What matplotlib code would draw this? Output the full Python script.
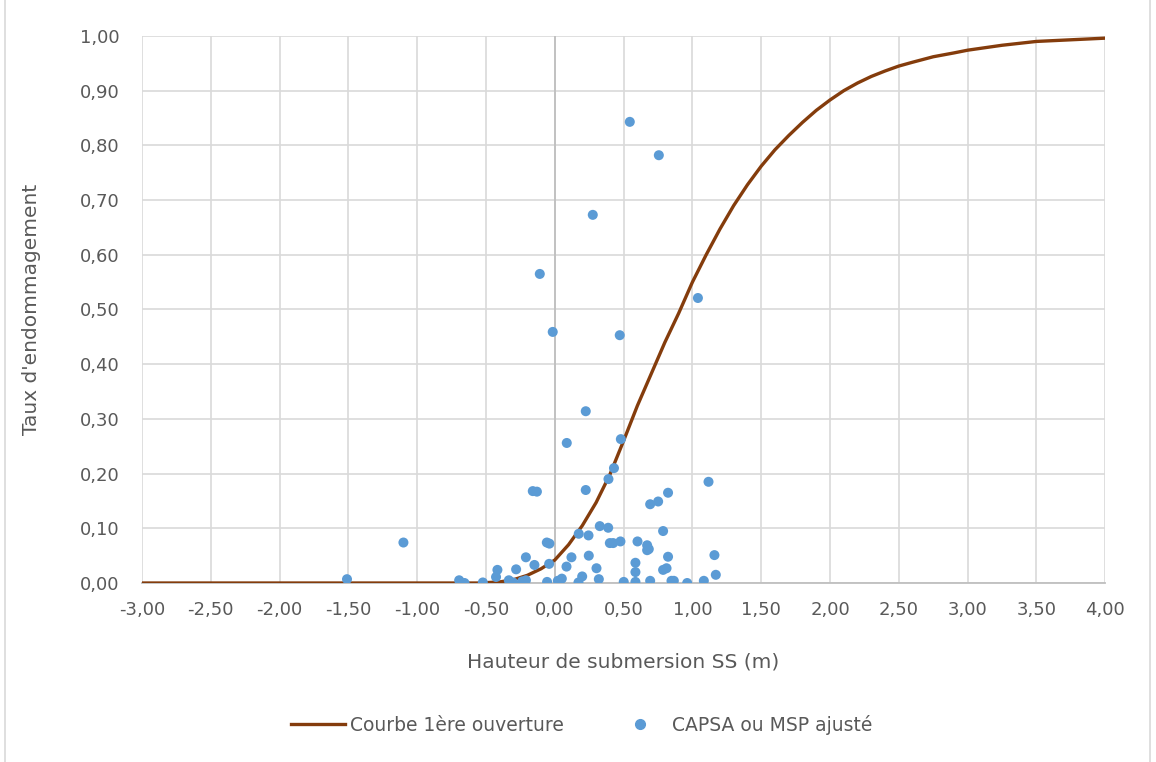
import matplotlib.pyplot as plt
from matplotlib.lines import Line2D

# courbe
courbe_x = [-3.0, -0.7, -0.55, -0.4, -0.3, -0.2, -0.1, 0.0, 0.1, 0.2, 0.3, 0.4,
            0.5, 0.6, 0.7, 0.8, 0.9, 1.0, 1.1, 1.2, 1.3, 1.4, 1.5, 1.6, 1.7, 1.8,
            1.9, 2.0, 2.1, 2.2, 2.3, 2.4, 2.5, 2.6, 2.75, 2.9, 3.0, 3.25, 3.5, 3.75, 4.0]
courbe_y = [0.0, 0.0, 0.0, 0.002, 0.006, 0.014, 0.026, 0.042, 0.07, 0.105, 0.147, 0.198,
            0.26, 0.324, 0.382, 0.44, 0.493, 0.55, 0.60, 0.647, 0.69, 0.728, 0.762, 0.792, 0.818, 0.842,
            0.864, 0.883, 0.9, 0.914, 0.926, 0.936, 0.945, 0.952, 0.962, 0.969, 0.974, 0.983, 0.99, 0.993, 0.996]

# points CAPSA / MSP
pts_x = [-1.51, -1.10, -0.695, -0.656, -0.523, -0.417, -0.427, -0.334, -0.303, -0.281,
         -0.237, -0.21, -0.21, -0.148, -0.16, -0.13, -0.109, -0.058, -0.039, -0.041,
         -0.056, -0.015, 0.022, 0.051, 0.085, 0.087, 0.121, 0.172, 0.174, 0.199,
         0.225, 0.225, 0.245, 0.247, 0.276, 0.303, 0.32, 0.327, 0.388, 0.39,
         0.40, 0.424, 0.43, 0.472, 0.477, 0.48, 0.501, 0.545, 0.586, 0.586,
         0.586, 0.601, 0.671, 0.683, 0.671, 0.693, 0.693, 0.751, 0.756, 0.787,
         0.787, 0.812, 0.823, 0.823, 0.848, 0.865, 0.962, 1.04, 1.083, 1.117,
         1.16, 1.17]
pts_y = [0.007, 0.074, 0.005, 0.0, 0.001, 0.024, 0.011, 0.005, 0.001, 0.025,
         0.003, 0.005, 0.047, 0.033, 0.168, 0.167, 0.565, 0.074, 0.072, 0.035,
         0.002, 0.459, 0.004, 0.008, 0.030, 0.256, 0.047, 0.001, 0.090, 0.012,
         0.170, 0.314, 0.087, 0.050, 0.673, 0.027, 0.007, 0.104, 0.101, 0.190,
         0.073, 0.073, 0.210, 0.453, 0.076, 0.263, 0.002, 0.843, 0.002, 0.020,
         0.037, 0.076, 0.069, 0.062, 0.060, 0.144, 0.004, 0.149, 0.782, 0.095,
         0.024, 0.027, 0.165, 0.048, 0.004, 0.004, 0.0, 0.521, 0.004, 0.185,
         0.051, 0.015]

xticks = [-3 + 0.5 * i for i in range(15)]
yticks = [0.1 * i for i in range(11)]

gris = '#595959'
fig = plt.figure(figsize=(11.56, 7.62), dpi=100)
ax = fig.add_axes([0.1228, 0.2349, 0.8333, 0.7179])

ax.plot(courbe_x, courbe_y, color='#843C0C', lw=2.4, zorder=3,
        solid_capstyle='round', solid_joinstyle='round')
ax.scatter(pts_x, pts_y, s=52, color='#5B9BD5', zorder=4, edgecolors='none')

ax.set_xlim(-3, 4)
ax.set_ylim(0, 1)
ax.set_xticks(xticks)
ax.set_xticklabels([f'{v:.2f}'.replace('.', ',') for v in xticks])
ax.set_yticks(yticks)
ax.set_yticklabels([f'{v:.2f}'.replace('.', ',') for v in yticks])
ax.tick_params(length=0, labelsize=13, colors=gris)
ax.tick_params(axis='x', pad=13)
ax.tick_params(axis='y', pad=16)
ax.grid(True, color='#d9d9d9', lw=1.2, zorder=0)
ax.set_axisbelow(True)
for s in ['top', 'right', 'left']:
    ax.spines[s].set_visible(False)
ax.spines['bottom'].set_color('#bfbfbf')
ax.spines['bottom'].set_linewidth(1.3)
ax.axvline(0, color='#bfbfbf', lw=1.3, zorder=1)

ax.set_xlabel('Hauteur de submersion SS (m)', fontsize=14.5, color=gris, labelpad=24)
ax.set_ylabel("Taux d'endommagement", fontsize=14.5, color=gris, labelpad=28)

handles = [Line2D([], [], color='#843C0C', lw=2.4),
           Line2D([], [], color='#5B9BD5', marker='o', ls='none', markersize=7)]
fig.legend(handles, ['Courbe 1ère ouverture', 'CAPSA ou MSP ajusté'],
           loc='center', bbox_to_anchor=(0.503, 0.049), ncol=2, frameon=False,
           fontsize=13.5, labelcolor=gris, handlelength=2.9, handletextpad=0.25,
           columnspacing=2.6)

# bordure de la zone graphique
fig.add_artist(Line2D([0.004, 0.004], [0, 1], color='#d9d9d9', lw=1.2))
fig.add_artist(Line2D([0.995, 0.995], [0, 1], color='#d9d9d9', lw=1.2))

fig.savefig('out.png', dpi=100)
